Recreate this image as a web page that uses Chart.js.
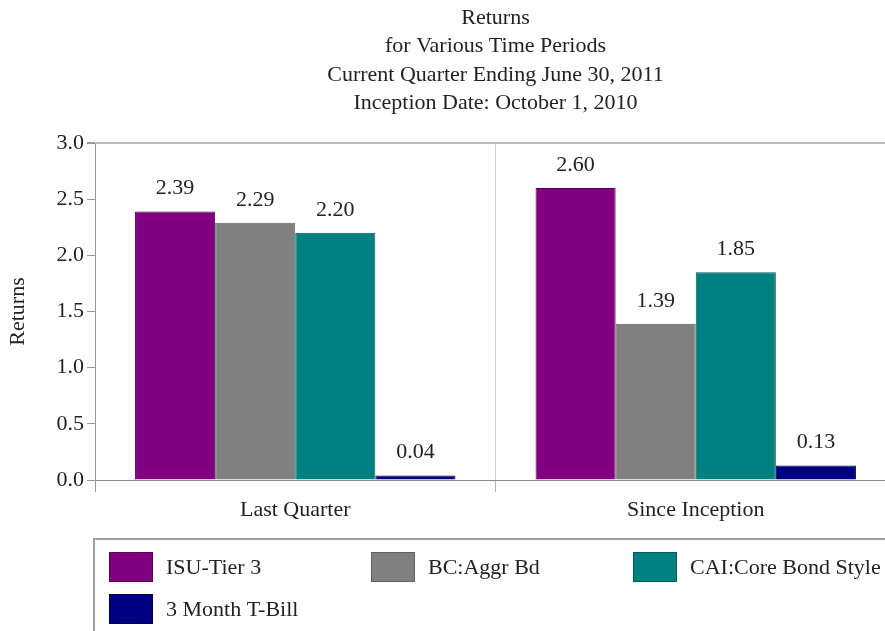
<!DOCTYPE html>
<html>
<head>
<meta charset="utf-8">
<title>Returns for Various Time Periods</title>
<script src="https://cdn.jsdelivr.net/npm/chart.js@4.4.1/dist/chart.umd.min.js"></script>
<style>
    html, body { margin: 0; padding: 0; background: #fff; overflow: hidden; }
    canvas { display: block; }
</style>
</head>
<body>
<canvas id="returns-chart" width="900" height="640"></canvas>
<script>
// Data
const categories = ['Last Quarter', 'Since Inception'];
const seriesNames = ['ISU-Tier 3', 'BC:Aggr Bd', 'CAI:Core Bond Style', '3 Month T-Bill'];
const isuTier3 = [2.39, 2.60];
const aggrBond = [2.29, 1.39];
const coreBondStyle = [2.20, 1.85];
const tBill3m = [0.04, 0.13];
const titleLines = [
    'Returns',
    'for Various Time Periods',
    'Current Quarter Ending June 30, 2011',
    'Inception Date: October 1, 2010'
];

const FONT = '"Liberation Serif", "Times New Roman", serif';
const FONT_SIZE = 22;
const TEXT = '#222222';

// Bar colours
const colors = {
    isu: { fill: '#800080', line: '#5c005c' },
    aggr: { fill: '#808080', line: '#606060' },
    core: { fill: '#008080', line: '#005c5c' },
    tbill: { fill: '#000080', line: '#00005c' }
};

// Title lines centred over the plot area
const titlePlugin = {
    id: 'stackedTitle',
    afterDraw(chart) {
        const ctx = chart.ctx;
        const area = chart.chartArea;
        const cx = (area.left + area.right) / 2;
        ctx.save();
        ctx.font = FONT_SIZE + 'px ' + FONT;
        ctx.fillStyle = TEXT;
        ctx.textAlign = 'center';
        ctx.textBaseline = 'middle';
        titleLines.forEach((line, i) => {
            ctx.fillText(line, cx, 18 + i * 28.5);
        });
        ctx.restore();
    }
};

// Value labels above each bar
const valueLabels = {
    id: 'valueLabels',
    afterDatasetsDraw(chart) {
        const ctx = chart.ctx;
        ctx.save();
        ctx.font = FONT_SIZE + 'px ' + FONT;
        ctx.fillStyle = TEXT;
        ctx.textAlign = 'center';
        ctx.textBaseline = 'middle';
        chart.data.datasets.forEach((ds, di) => {
            chart.getDatasetMeta(di).data.forEach((bar, i) => {
                ctx.fillText(ds.data[i].toFixed(2), bar.x, bar.y - 23);
            });
        });
        ctx.restore();
    }
};

// Boxed legend in a fixed three-column grid
const boxLegend = {
    id: 'boxLegend',
    afterDraw(chart) {
        const ctx = chart.ctx;
        ctx.save();
        ctx.strokeStyle = '#a0a0a0';
        ctx.lineWidth = 2;
        ctx.strokeRect(94, 539, 900, 200);
        ctx.lineWidth = 1;
        ctx.font = FONT_SIZE + 'px ' + FONT;
        ctx.textBaseline = 'middle';
        ctx.textAlign = 'left';
        chart.data.datasets.forEach((ds, i) => {
            const col = i % 3;
            const row = Math.floor(i / 3);
            const x = 109 + col * 262;
            const y = 552 + row * 42;
            ctx.fillStyle = ds.backgroundColor;
            ctx.fillRect(x, y, 44, 30);
            ctx.strokeStyle = ds.borderColor;
            ctx.strokeRect(x + 0.5, y + 0.5, 43, 29);
            ctx.fillStyle = TEXT;
            ctx.fillText(ds.label, x + 57, y + 16);
        });
        ctx.restore();
    }
};

const seriesData = [isuTier3, aggrBond, coreBondStyle, tBill3m];
const seriesColors = [colors.isu, colors.aggr, colors.core, colors.tbill];

new Chart(document.getElementById('returns-chart'), {
    type: 'bar',
    data: {
        labels: categories,
        datasets: seriesNames.map((name, i) => ({
            label: name,
            data: seriesData[i],
            backgroundColor: seriesColors[i].fill,
            borderColor: seriesColors[i].line,
            borderWidth: 1,
            borderSkipped: 'bottom',
            categoryPercentage: 0.8,
            barPercentage: 1.0
        }))
    },
    options: {
        responsive: false,
        animation: false,
        layout: {
            padding: { top: 143, right: 4, bottom: 100, left: 0 }
        },
        plugins: {
            legend: { display: false },
            title: { display: false },
            tooltip: { enabled: false }
        },
        scales: {
            x: {
                afterFit(scale) { scale.height = 60; },
                grid: {
                    offset: true,
                    color: (c) => (c.index === 0 ? '#999999' : '#cfcfcf'),
                    tickColor: (c) => (c.index === 0 ? '#999999' : '#b5b5b5'),
                    tickLength: 12,
                    lineWidth: 1
                },
                border: { display: true, color: '#8a8a8a', width: 1 },
                ticks: {
                    color: TEXT,
                    font: { family: FONT, size: FONT_SIZE },
                    padding: 5
                }
            },
            y: {
                min: 0,
                max: 3,
                afterFit(scale) { scale.width = 95; },
                ticks: {
                    stepSize: 0.5,
                    color: TEXT,
                    font: { family: FONT, size: FONT_SIZE },
                    padding: 3,
                    callback: (v) => Number(v).toFixed(1)
                },
                grid: {
                    color: (c) => (c.tick && c.tick.value === 3 ? '#bcbcbc' : 'rgba(0,0,0,0)'),
                    tickColor: '#999999',
                    tickLength: 8,
                    lineWidth: (c) => (c.tick && c.tick.value === 3 ? 2 : 1)
                },
                border: { display: true, color: '#999999', width: 1 },
                title: {
                    display: true,
                    text: 'Returns',
                    color: TEXT,
                    font: { family: FONT, size: FONT_SIZE },
                    padding: { top: 5, bottom: 0 }
                }
            }
        }
    },
    plugins: [titlePlugin, valueLabels, boxLegend]
});
</script>
</body>
</html>
